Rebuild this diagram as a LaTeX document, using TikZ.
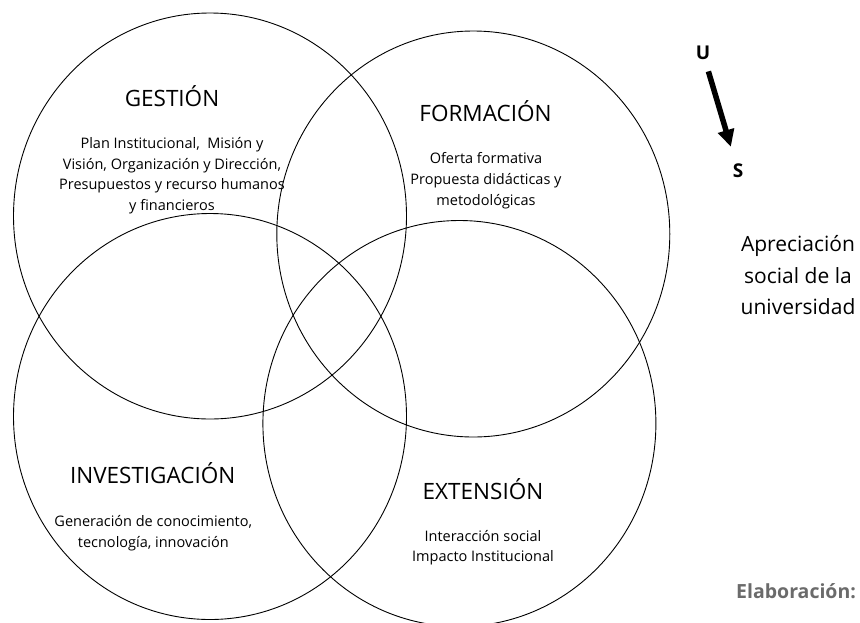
\documentclass[tikz,border=0pt]{standalone}
\usepackage{fontspec}
\setmainfont{Open Sans}
\usetikzlibrary{arrows.meta,positioning,shapes.geometric}

\tikzset{
  anillo/.style={draw, ellipse, line width=.9pt, inner sep=0pt,
    minimum width=393pt, minimum height=406pt},
  titulo/.style={anchor=base, inner sep=0pt, font=\fontsize{22.5}{26}\selectfont},
  cuerpo/.style={align=center, inner sep=0pt, font=\fontsize{14.5}{20.6}\selectfont},
  letra/.style={font=\fontsize{19}{24}\selectfont\bfseries},
  flecha/.style={line width=5.5pt, -{Triangle[length=17pt,width=16pt]},
    shorten <=8pt, shorten >=14pt},
}

\begin{document}
\begin{tikzpicture}[x=1pt,y=-1pt]
      \useasboundingbox (0,0) rectangle (860,622);

      \node[anillo] at (210,216) (gestion) {};
      \node[anillo] at (473.3,234) (formacion) {};
      \node[anillo] at (210,416.5) (investigacion) {};
      \node[anillo] at (459.4,423.5) (extension) {};

      \node[titulo] at (172,106) (tGestion) {GESTIÓN};
      \node[titulo] at (485.5,121.7) (tFormacion) {FORMACIÓN};
      \node[titulo] at (152.7,483.3) (tInvestigacion) {INVESTIGACIÓN};
      \node[titulo] at (483,499) (tExtension) {EXTENSIÓN};

      \node[cuerpo] at (172,175.7) (cGestion) {Plan Institucional,\ \ Misión y\\
        Visión, Organización y Dirección,\\Presupuestos y recurso humanos\\y financieros};
      \node[cuerpo] at (486,180.7) (cFormacion) {Oferta formativa\\
        Propuesta didácticas y\\metodológicas};
      \node[cuerpo] at (153.3,532.9) (cInvestigacion) {Generación de conocimiento,\\
        tecnología, innovación};
      \node[cuerpo] at (483,547.7) (cExtension) {Interacción social\\Impacto Institucional};

      \node[letra] at (703,53.3) (U) {U};
      \node[letra] at (738,170.7) (S) {S};
      \draw[flecha] (U) -- (S);

      \node[align=center, font=\fontsize{21}{31.8}\selectfont] at (798,275.2) (apreciacion)
        {Apreciación\\social de la\\universidad};

      \node[anchor=base west, inner sep=0pt, text=black!58,
        font=\fontsize{19.5}{22}\selectfont\bfseries] at (736,598.3) (elaboracion) {Elaboración:};

    \end{tikzpicture}
\end{document}
